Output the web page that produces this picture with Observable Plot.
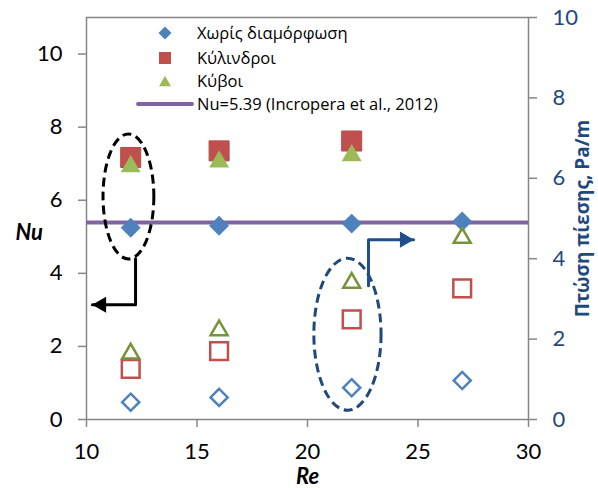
<!DOCTYPE html>
<html><head><meta charset="utf-8">
<script src="https://cdn.jsdelivr.net/npm/d3@7"></script>
<script src="https://cdn.jsdelivr.net/npm/@observablehq/plot@0.6"></script>
<style>body{margin:0;background:#fff} #chart{width:598px;height:488px}</style>
</head><body><div id="chart"></div>
<script>
// ---- data ----
const re = [12, 16, 22, 27];
const reFilled = [12, 16, 22];
const nuPlain = [5.25, 5.30, 5.36, 5.42];      // Χωρίς διαμόρφωση (Nu, left axis)
const nuCyl = [7.17, 7.35, 7.62];              // Κύλινδροι (Nu)
const nuCube = [7.0, 7.13, 7.3];               // Κύβοι (Nu)
const dpPlain = [0.43, 0.55, 0.79, 0.97];      // pressure drop, right axis (Pa/m)
const dpCyl = [1.26, 1.70, 2.49, 3.26];
const dpCube = [1.70, 2.28, 3.46, 4.58];
const nuRef = 5.39;
const xTicks = [10, 15, 20, 25, 30];
const yLeftTicks = [0, 2, 4, 6, 8, 10];
const yRightTicks = [0, 2, 4, 6, 8, 10];
const seriesNames = ["Χωρίς διαμόρφωση", "Κύλινδροι", "Κύβοι", "Nu=5.39 (Incropera et al., 2012)"];
// annotation shapes (data coordinates)
const ellipseBlack = {cx: 11.92, cy: 6.09, rx: 1.15, ry: 1.71};
const ellipseBlue = {cx: 21.83, cy: 2.32, rx: 1.52, ry: 2.08};
const arrowBlack = [{x: 12.22, y: 4.40}, {x: 12.22, y: 3.14}, {x: 10.27, y: 3.14}];
const arrowBlue = [{x: 22.76, y: 3.66}, {x: 22.76, y: 4.92}, {x: 24.8, y: 4.92}];

const leftMax = 11, rightMax = 10, k = leftMax / rightMax;
const F = "Lato, 'Open Sans', sans-serif";
const F2 = "'Open Sans', Lato, sans-serif";
const cBlue = "#4F81BD", cRed = "#C0504D", cGreen = "#9BBB59", cGreenDark = "#77933C", cPurple = "#8064A2", cNavy = "#1F497D", cAxis = "#868686";

const filled = (xs, ys) => xs.map((x, i) => ({x, y: ys[i]}));
const open = (xs, ys) => xs.map((x, i) => ({x, y: ys[i] * k}));

function ellipseMark(e, color) {
  return (index, scales) => {
    const cx = scales.x(e.cx), cy = scales.y(e.cy);
    const rx = Math.abs(scales.x(e.cx + e.rx) - cx), ry = Math.abs(scales.y(e.cy + e.ry) - cy);
    return d3.create("svg:ellipse").attr("cx", cx).attr("cy", cy).attr("rx", rx).attr("ry", ry)
      .attr("fill", "none").attr("stroke", color).attr("stroke-width", 3).attr("stroke-dasharray", "9,5").node();
  };
}

function legendMark() {
  return () => {
    const g = d3.create("svg:g").attr("font-family", F2).attr("font-size", 16.5).attr("fill", "#000").attr("text-anchor", "start");
    const ys = [33, 58, 81, 104], sx = 165, tx = 197;
    g.append("path").attr("transform", `translate(${sx},${ys[0]})`).attr("d", d3.symbol(d3.symbolDiamond2, 108)()).attr("fill", cBlue);
    g.append("path").attr("transform", `translate(${sx},${ys[1]})`).attr("d", d3.symbol(d3.symbolSquare, 144)()).attr("fill", cRed);
    g.append("path").attr("transform", `translate(${sx},${ys[2] + 1.7})`).attr("d", d3.symbol(d3.symbolTriangle, 62)()).attr("fill", cGreen);
    g.append("line").attr("x1", 138).attr("x2", 192).attr("y1", ys[3]).attr("y2", ys[3]).attr("stroke", cPurple).attr("stroke-width", 4).attr("stroke-linecap", "round");
    seriesNames.forEach((s, i) => g.append("text").attr("x", tx).attr("y", ys[i]).attr("dy", "0.36em").attr("text-anchor", "start").text(s));
    return g.node();
  };
}

const plot = Plot.plot({
  width: 598, height: 488,
  marginLeft: 86, marginRight: 70, marginTop: 17, marginBottom: 69,
  style: {fontFamily: F, background: "#fff", overflow: "visible"},
  x: {domain: [10, 30]},
  y: {domain: [0, leftMax]},
  marks: [
    Plot.frame({stroke: cAxis, strokeWidth: 1.5}),
    Plot.axisX(xTicks, {tickSize: 8, tickPadding: 16, fontSize: 22, stroke: cAxis, strokeWidth: 1.5, fill: "#000", label: null}),
    Plot.axisY(yLeftTicks, {anchor: "left", tickSize: 8, tickPadding: 16, fontSize: 22, stroke: cAxis, strokeWidth: 1.5, fill: "#000", label: null}),
    Plot.axisY(yRightTicks.map(v => v * k), {anchor: "right", tickSize: 8, tickPadding: 16, fontSize: 22, stroke: cAxis, strokeWidth: 1.5, fill: cNavy, label: null, tickFormat: d => String(Math.round(d / k))}),
    Plot.text(["Nu"], {frameAnchor: "left", dx: -71, dy: 14, text: d => d, fontSize: 22, fontWeight: "bold", fontStyle: "italic", fill: "#000"}),
    Plot.text(["Re"], {frameAnchor: "bottom", dy: 64, text: d => d, fontSize: 22, fontWeight: "bold", fontStyle: "italic", fill: "#000"}),
    Plot.text(["Πτώση πίεσης, Pa/m"], {frameAnchor: "right", dx: 54, rotate: -90, textAnchor: "middle", text: d => d, fontSize: 19, fontWeight: "bold", fontFamily: F2, fill: cNavy}),
    Plot.ruleY([nuRef], {stroke: cPurple, strokeWidth: 4}),
    ellipseMark(ellipseBlack, "#000"),
    ellipseMark(ellipseBlue, cNavy),
    Plot.line(arrowBlack, {x: "x", y: "y", stroke: "#000", strokeWidth: 3, curve: "linear"}),
    Plot.dot([arrowBlack[2]], {x: "x", y: "y", symbol: "triangle", r: 6, rotate: -90, dx: 9, fill: "#000"}),
    Plot.line(arrowBlue, {x: "x", y: "y", stroke: "#1F4E8C", strokeWidth: 3, curve: "linear"}),
    Plot.dot([arrowBlue[2]], {x: "x", y: "y", symbol: "triangle", r: 6, rotate: 90, dx: -9, fill: "#1F4E8C"}),
    // filled markers (Nu, left axis)
    Plot.dot(filled(re, nuPlain), {x: "x", y: "y", symbol: "diamond2", r: 9, fill: cBlue}),
    Plot.dot(filled(reFilled, nuCyl), {x: "x", y: "y", symbol: "square", r: 11.3, fill: cRed, stroke: "#B84B48", strokeWidth: 1}),
    Plot.dot(filled(reFilled, nuCube), {x: "x", y: "y", symbol: "triangle", r: 7.4, dy: 2.9, fill: cGreen}),
    // open markers (pressure drop, right axis)
    Plot.dot(open(re, dpPlain), {x: "x", y: "y", symbol: "diamond2", r: 7.7, fill: "none", stroke: cBlue, strokeWidth: 2.5}),
    Plot.dot(open(re, dpCyl), {x: "x", y: "y", symbol: "square2", r: 11.3, fill: "none", stroke: cRed, strokeWidth: 2.5}),
    Plot.dot(open(re, dpCube), {x: "x", y: "y", symbol: "triangle2", r: 8.1, dy: 2.5, fill: "none", stroke: cGreenDark, strokeWidth: 2.5}),
    legendMark()
  ]
});
document.getElementById("chart").append(plot);
</script></body></html>
